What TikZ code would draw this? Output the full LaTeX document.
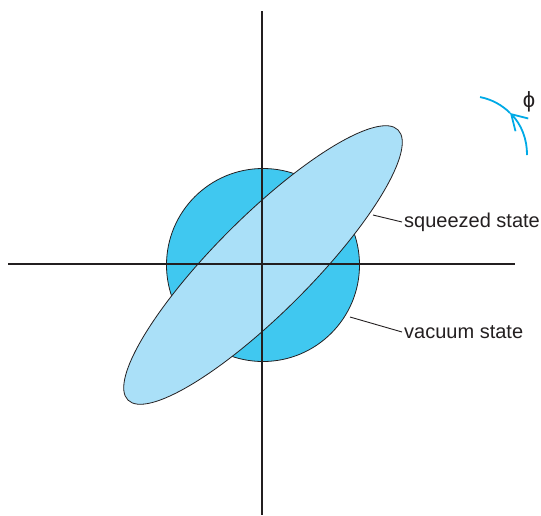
\documentclass[tikz,border=0pt]{standalone}
\usepackage{fontspec}
\setmainfont{Liberation Sans}
\usetikzlibrary{arrows.meta}
\definecolor{vacblue}{RGB}{64,200,240}
\definecolor{sqzblue}{RGB}{170,224,248}
\definecolor{arcblue}{RGB}{0,170,230}
\definecolor{inkgray}{RGB}{35,31,32}
\tikzset{
  axis/.style={draw=inkgray, line width=2.7pt},
  outline/.style={draw=inkgray, line width=0.8pt},
  leader/.style={draw=inkgray, line width=0.9pt},
  statelabel/.style={anchor=west, inner sep=2pt, text=inkgray, font=\fontsize{20}{24}\selectfont}
}
\begin{document}
\begin{tikzpicture}[x=1pt,y=-1pt]
  \useasboundingbox (0,0) rectangle (541,515);
  %vacuum state
  \draw[outline, fill=vacblue] (263,265) circle (96.5);
  %squeezed state
  \draw[outline, fill=sqzblue] (263,265) ellipse [x radius=191, y radius=48, rotate=45];
  %axes
  \draw[axis] (262,11) -- (262,515);
  \draw[axis] (8,264) -- (515,264);
  %labels
  \coordinate (sqzpt) at (373,215);
  \coordinate (vacpt) at (350,317);
  \node[statelabel] (sqzlabel) at (402,222) {squeezed state};
  \node[statelabel] (vaclabel) at (402,332) {vacuum state};
  \draw[leader] (sqzpt) -- (sqzlabel.west);
  \draw[leader] (vacpt) -- (vaclabel.west);
  %phase rotation
  \draw[arcblue, line width=1.8pt, -{Straight Barb[length=15pt,width=18pt]}] (469,154) ++(1:58) arc [start angle=1, end angle=-45, radius=58];
  \draw[arcblue, line width=1.8pt] (469,154) ++(-45:58) arc [start angle=-45, end angle=-79, radius=58];
  \node[text=inkgray, font=\fontsize{22}{26}\selectfont] (phi) at (529,102) {ϕ};
\end{tikzpicture}
\end{document}
